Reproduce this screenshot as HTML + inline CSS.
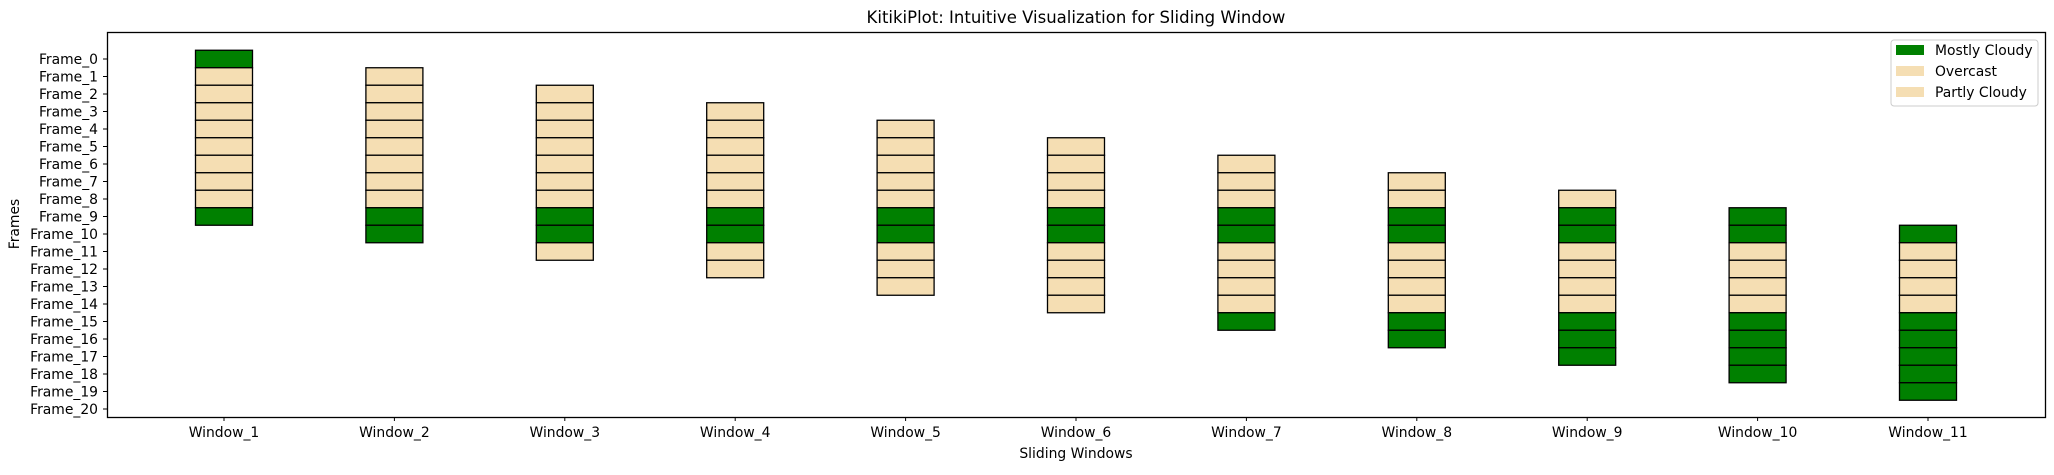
<!DOCTYPE html>
<html><head><meta charset="utf-8"><style>
body{margin:0;background:#fff;}
svg text{font-family:"DejaVu Sans","Liberation Sans",sans-serif;fill:#000;}
</style></head><body>
<svg id="chart" width="2054" height="470" xmlns="http://www.w3.org/2000/svg">
<text x="1076" y="23" font-size="16.5" text-anchor="middle">KitikiPlot: Intuitive Visualization for Sliding Window</text>
<text x="1076" y="458" font-size="13.9" text-anchor="middle">Sliding Windows</text>
<text x="19" y="224" font-size="13.9" text-anchor="middle" transform="rotate(-90 19 224)">Frames</text>
<g id="bars"></g>
<g id="ticks"></g>
<rect x="107.5" y="32.5" width="1938" height="385" fill="none" stroke="#000" stroke-width="1.3"/>
<g>
<rect x="1891" y="40" width="147" height="66" rx="3" fill="#fff" stroke="#ccc"/>
<rect x="1896" y="45" width="28" height="10" fill="#008000"/>
<text x="1935" y="55" font-size="13.9">Mostly Cloudy</text>
<rect x="1896" y="66" width="28" height="10" fill="#f5deb3"/>
<text x="1935" y="76" font-size="13.9">Overcast</text>
<rect x="1896" y="87" width="28" height="10" fill="#f5deb3"/>
<text x="1935" y="97" font-size="13.9">Partly Cloudy</text>
</g>
</svg>
<script>
const windows = ["Window_1","Window_2","Window_3","Window_4","Window_5","Window_6","Window_7","Window_8","Window_9","Window_10","Window_11"];
const frameLabels = ["Frame_0","Frame_1","Frame_2","Frame_3","Frame_4","Frame_5","Frame_6","Frame_7","Frame_8","Frame_9","Frame_10","Frame_11","Frame_12","Frame_13","Frame_14","Frame_15","Frame_16","Frame_17","Frame_18","Frame_19","Frame_20"];
const frameWeather = ["Mostly Cloudy","Overcast","Partly Cloudy","Overcast","Partly Cloudy","Overcast","Partly Cloudy","Overcast","Partly Cloudy","Mostly Cloudy","Mostly Cloudy","Overcast","Partly Cloudy","Overcast","Partly Cloudy","Mostly Cloudy","Mostly Cloudy","Mostly Cloudy","Mostly Cloudy","Mostly Cloudy"];
const windowSize = 10;
const colorMap = {"Mostly Cloudy":"#008000","Overcast":"#f5deb3","Partly Cloudy":"#f5deb3"};
const NS="http://www.w3.org/2000/svg";
function xPos(i){return 224+i*170.4;}
function yPos(f){return 59+f*17.5;}
const bw=57, bh=17.5;
const bars=document.getElementById('bars');
windows.forEach((w,i)=>{
  for(let k=0;k<windowSize;k++){
    const f=i+k; if(f>=frameWeather.length) break;
    const r=document.createElementNS(NS,'rect');
    r.setAttribute('x',xPos(i)-bw/2);r.setAttribute('y',yPos(f)-bh/2);
    r.setAttribute('width',bw);r.setAttribute('height',bh);
    r.setAttribute('fill',colorMap[frameWeather[f]]);r.setAttribute('stroke','#000');r.setAttribute('stroke-width','1.3');
    
    
    bars.appendChild(r);
  }
});
const ticks=document.getElementById('ticks');
frameLabels.forEach((l,f)=>{
  const y=yPos(f);
  const ln=document.createElementNS(NS,'line');
  ln.setAttribute('x1',103);ln.setAttribute('x2',107);ln.setAttribute('y1',y);ln.setAttribute('y2',y);ln.setAttribute('stroke','#000');
  
  
  ticks.appendChild(ln);
  const t=document.createElementNS(NS,'text');
  t.setAttribute('x',98);t.setAttribute('y',y+5);t.setAttribute('font-size','13.9');t.setAttribute('text-anchor','end');
  t.textContent=l;
  
  
  ticks.appendChild(t);
});
windows.forEach((w,i)=>{
  const x=xPos(i);
  const ln=document.createElementNS(NS,'line');
  ln.setAttribute('x1',x);ln.setAttribute('x2',x);ln.setAttribute('y1',417);ln.setAttribute('y2',421);ln.setAttribute('stroke','#000');
  
  
  ticks.appendChild(ln);
  const t=document.createElementNS(NS,'text');
  t.setAttribute('x',x);t.setAttribute('y',437);t.setAttribute('font-size','13.9');t.setAttribute('text-anchor','middle');
  t.textContent=w;
  
  
  ticks.appendChild(t);
});
</script>
</body></html>
